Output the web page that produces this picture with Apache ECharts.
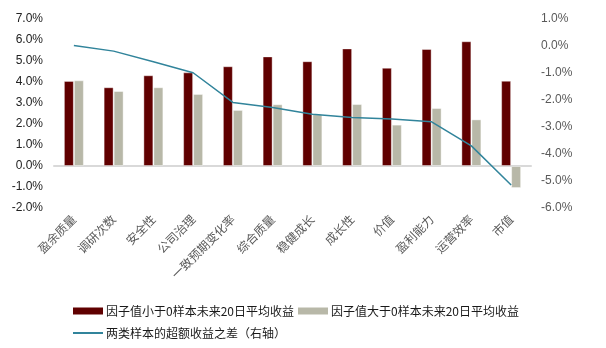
<!DOCTYPE html>
<html><head><meta charset="utf-8">
<script src="https://cdn.jsdelivr.net/npm/echarts@6/dist/echarts.min.js"></script>
<style>html,body{margin:0;padding:0;background:#fff}#c{width:606px;height:348px}</style>
</head><body><div id="c"></div>
<script>
const categories = ['盈余质量','调研次数','安全性','公司治理','一致预期变化率','综合质量','稳健成长','成长性','价值','盈利能力','运营效率','市值'];
const belowZero = [4.05, 3.75, 4.32, 4.46, 4.75, 5.22, 4.99, 5.60, 4.68, 5.57, 5.94, 4.06];
const aboveZero = [4.08, 3.57, 3.75, 3.43, 2.67, 2.94, 2.46, 2.95, 1.97, 2.76, 2.22, -1.05];
const spread = [0.02, -0.19, -0.58, -0.99, -2.09, -2.28, -2.53, -2.65, -2.70, -2.81, -3.70, -5.15];
const seriesNames = ['因子值小于0样本未来20日平均收益','因子值大于0样本未来20日平均收益','两类样本的超额收益之差（右轴）'];

const font = '"Liberation Sans", "Noto Sans CJK SC", sans-serif';
const cjk = '"Noto Sans CJK SC", sans-serif';
const chart = echarts.init(document.getElementById('c'), null, {renderer:'canvas'});
chart.setOption({
  animation:false,
  textStyle:{fontFamily:font},
  grid:{left:54,right:75,top:19,bottom:140,containLabel:false},
  legend:[
    {left:68,top:300,itemWidth:30,itemHeight:7,itemGap:4,icon:'rect',
     itemStyle:{borderWidth:0},
     data:[seriesNames[0],seriesNames[1]],
     textStyle:{fontSize:12,color:'#1a1a1a',fontFamily:cjk,padding:[0,0,0,-2]}},
    {left:68,top:322,itemWidth:30,itemHeight:2,icon:'rect',data:[seriesNames[2]],
     itemStyle:{borderWidth:0},
     textStyle:{fontSize:12,color:'#1a1a1a',fontFamily:cjk,padding:[0,0,0,-2]}}
  ],
  xAxis:{type:'category',data:categories,
    axisLine:{onZero:true,lineStyle:{color:'#d9d9d9',width:2}},
    axisTick:{show:false},
    axisLabel:{rotate:45,fontSize:12,color:'#595959',interval:0,margin:9,fontFamily:cjk}},
  yAxis:[
    {type:'value',min:-2,max:7,interval:1,splitLine:{show:false},axisLine:{show:false},axisTick:{show:false},
     axisLabel:{formatter:v=>v.toFixed(1)+'%',fontSize:12,color:'#222',margin:11}},
    {type:'value',min:-6,max:1,interval:1,splitLine:{show:false},axisLine:{show:false},axisTick:{show:false},
     axisLabel:{formatter:v=>v.toFixed(1)+'%',fontSize:12,color:'#595959',margin:10}}
  ],
  series:[
    {name:seriesNames[0],type:'bar',data:belowZero,barWidth:10,barGap:'0%',
     itemStyle:{color:'#600000',borderColor:'rgba(255,255,255,0.4)',borderWidth:1}},
    {name:seriesNames[1],type:'bar',data:aboveZero,barWidth:10,barGap:'0%',
     itemStyle:{color:'#B8B8A8',borderColor:'rgba(255,255,255,0.4)',borderWidth:1}},
    {name:seriesNames[2],type:'line',yAxisIndex:1,data:spread,symbol:'none',
     lineStyle:{color:'#31849B',width:1.5},itemStyle:{color:'#31849B'}}
  ]
});
</script></body></html>
